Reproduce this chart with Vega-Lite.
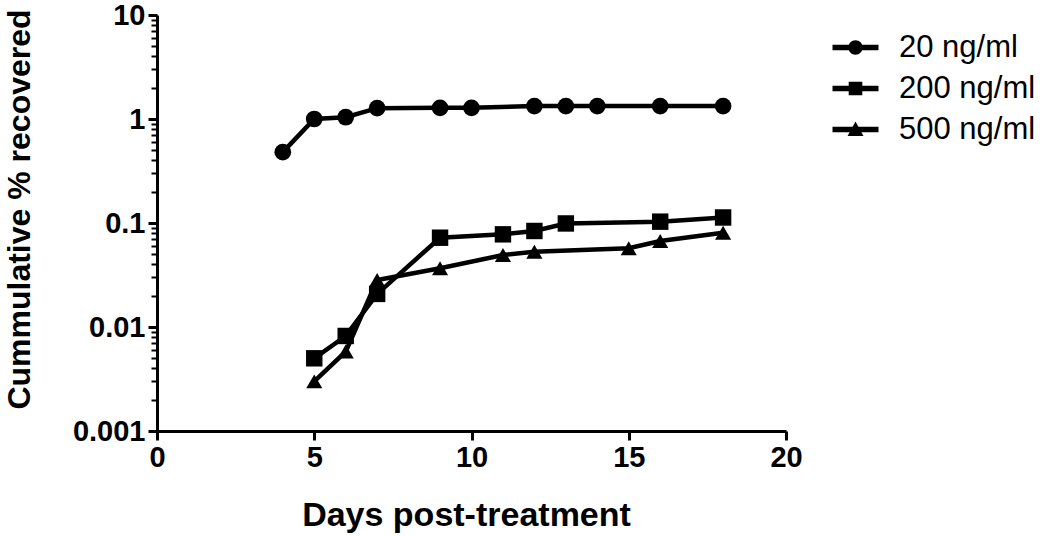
{
  "$schema": "https://vega.github.io/schema/vega-lite/v6.json",
  "width": 629,
  "height": 416,
  "autosize": "none",
  "padding": {"left": 157, "top": 15, "right": 264, "bottom": 105},
  "background": "white",
  "config": {
    "view": {"stroke": null},
    "font": "Liberation Sans",
    "axis": {
      "domainColor": "black",
      "domainWidth": 3,
      "tickColor": "black",
      "tickWidth": 3,
      "grid": false,
      "labelFont": "Liberation Sans",
      "labelFontWeight": "bold",
      "labelFontSize": 29,
      "labelColor": "black",
      "titleFont": "Liberation Sans",
      "titleFontWeight": "bold",
      "titleFontSize": 32,
      "titleColor": "black"
    }
  },
  "data": {
    "values": [
      {"series": "20 ng/ml", "day": 4, "value": 0.48},
      {"series": "20 ng/ml", "day": 5, "value": 1.0},
      {"series": "20 ng/ml", "day": 6, "value": 1.04},
      {"series": "20 ng/ml", "day": 7, "value": 1.27},
      {"series": "20 ng/ml", "day": 9, "value": 1.28},
      {"series": "20 ng/ml", "day": 10, "value": 1.28},
      {"series": "20 ng/ml", "day": 12, "value": 1.33},
      {"series": "20 ng/ml", "day": 13, "value": 1.33},
      {"series": "20 ng/ml", "day": 14, "value": 1.33},
      {"series": "20 ng/ml", "day": 16, "value": 1.33},
      {"series": "20 ng/ml", "day": 18, "value": 1.33},
      {"series": "200 ng/ml", "day": 5, "value": 0.005},
      {"series": "200 ng/ml", "day": 6, "value": 0.0082},
      {"series": "200 ng/ml", "day": 7, "value": 0.0208},
      {"series": "200 ng/ml", "day": 9, "value": 0.0722},
      {"series": "200 ng/ml", "day": 11, "value": 0.0778},
      {"series": "200 ng/ml", "day": 12, "value": 0.0838},
      {"series": "200 ng/ml", "day": 13, "value": 0.099},
      {"series": "200 ng/ml", "day": 16, "value": 0.103},
      {"series": "200 ng/ml", "day": 18, "value": 0.113},
      {"series": "500 ng/ml", "day": 5, "value": 0.003},
      {"series": "500 ng/ml", "day": 6, "value": 0.0058},
      {"series": "500 ng/ml", "day": 7, "value": 0.0283},
      {"series": "500 ng/ml", "day": 9, "value": 0.0367},
      {"series": "500 ng/ml", "day": 11, "value": 0.0492},
      {"series": "500 ng/ml", "day": 12, "value": 0.053},
      {"series": "500 ng/ml", "day": 15, "value": 0.0571},
      {"series": "500 ng/ml", "day": 16, "value": 0.0671},
      {"series": "500 ng/ml", "day": 18, "value": 0.0807}
    ]
  },
  "encoding": {
    "x": {
      "field": "day",
      "type": "quantitative",
      "scale": {"domain": [0, 20], "nice": false, "zero": false},
      "axis": {
        "title": "Days post-treatment",
        "titleFontSize": 34,
        "titleX": 309,
        "values": [0, 5, 10, 15, 20],
        "tickSize": 9,
        "labelPadding": 3,
        "titlePadding": 26,
        "labelFlush": false
      }
    },
    "y": {
      "field": "value",
      "type": "quantitative",
      "scale": {"type": "log", "domain": [0.001, 10], "nice": false},
      "axis": {
        "title": "Cummulative % recovered",
        "titleX": -121,
        "titleY": 194,
        "values": [0.001, 0.002, 0.003, 0.004, 0.005, 0.006, 0.007, 0.008, 0.009, 0.01, 0.02, 0.03, 0.04, 0.05, 0.06, 0.07, 0.08, 0.09, 0.1, 0.2, 0.3, 0.4, 0.5, 0.6, 0.7, 0.8, 0.9, 1, 2, 3, 4, 5, 6, 7, 8, 9, 10],
        "format": "~g",
        "labelExpr": "indexof([0.001, 0.01, 0.1, 1, 10], datum.value) >= 0 ? datum.label : ''",
        "tickSize": {"condition": {"test": "indexof([0.001, 0.01, 0.1, 1, 10], datum.value) >= 0", "value": 9}, "value": 6},
        "tickWidth": {"condition": {"test": "indexof([0.001, 0.01, 0.1, 1, 10], datum.value) >= 0", "value": 3}, "value": 2},
        "labelPadding": 3,
        "labelFlush": false
      }
    }
  },
  "layer": [
    {
      "mark": {"type": "line", "color": "black", "strokeWidth": 4.5},
      "encoding": {"detail": {"field": "series", "type": "nominal"}}
    },
    {
      "mark": {"type": "point", "filled": true, "color": "black", "opacity": 1, "strokeWidth": 0},
      "encoding": {
        "shape": {
          "field": "series",
          "type": "nominal",
          "scale": {"domain": ["20 ng/ml", "200 ng/ml", "500 ng/ml"], "range": ["circle", "square", "triangle-up"]},
          "legend": null
        },
        "size": {
          "field": "series",
          "type": "nominal",
          "scale": {"domain": ["20 ng/ml", "200 ng/ml", "500 ng/ml"], "range": [280, 260, 300]},
          "legend": null
        }
      }
    },
    {
      "transform": [{"filter": "datum.day < 0"}],
      "mark": {"type": "point", "filled": true, "color": "black", "opacity": 1, "strokeWidth": 0},
      "encoding": {
        "shape": {
          "field": "series",
          "type": "nominal",
          "scale": {
            "domain": ["20 ng/ml", "200 ng/ml", "500 ng/ml"],
            "range": [
              "M-2.3,-0.27H2.3V0.27H-2.3Z M0.72,0A0.72,0.72,0,1,1,-0.72,0A0.72,0.72,0,1,1,0.72,0Z",
              "M-2.3,-0.27H2.3V0.27H-2.3Z M-0.68,-0.68H0.68V0.68H-0.68Z",
              "M-2.3,-0.27H2.3V0.27H-2.3Z M0,-0.8L0.8,0.66L-0.8,0.66Z"
            ]
          },
          "legend": {
            "title": null,
            "orient": "none",
            "legendX": 683,
            "legendY": 17,
            "padding": 0,
            "symbolSize": 400,
            "symbolFillColor": "black",
            "symbolStrokeColor": "black",
            "symbolStrokeWidth": 0,
            "symbolOpacity": 1,
            "labelOffset": 28,
            "labelFont": "Liberation Sans",
            "labelFontSize": 31,
            "labelColor": "black",
            "labelLimit": 300,
            "rowPadding": 9
          }
        }
      }
    }
  ],
  "resolve": {"scale": {"shape": "independent", "size": "independent"}}
}
